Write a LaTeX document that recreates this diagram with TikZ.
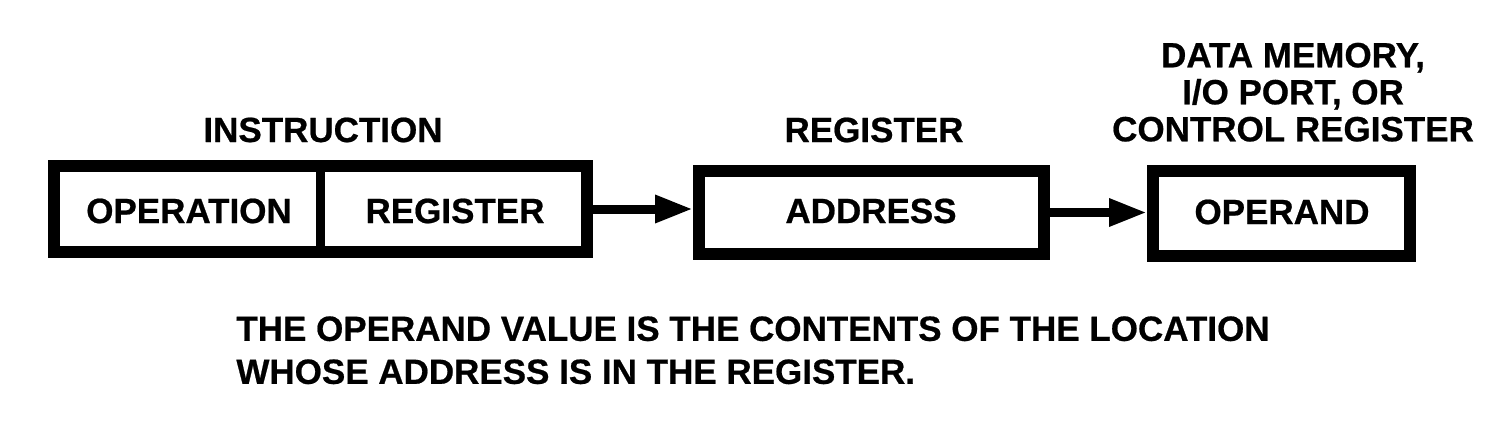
\documentclass[tikz,border=0pt]{standalone}
\usepackage{fontspec}
\setmainfont{Liberation Sans}
\newfontfamily\heavyfont{Liberation Sans Bold}[FakeBold=0.6]
\usetikzlibrary{arrows.meta}
\begin{document}
\begin{tikzpicture}[x=0.5pt,y=-0.5pt,
  box/.style={draw=black, line width=6pt, fill=white, inner sep=0pt},
  txt/.style={font=\heavyfont\fontsize{17.5}{18.5}\selectfont, inner sep=0pt, text=black},
  arr/.style={line width=4.5pt, -{Triangle[length=19pt,width=13pt]}},
  divider/.style={line width=4.5pt, shorten >=3pt, shorten <=3pt}]
\useasboundingbox (0,0) rectangle (1500,430);
% boxes
\node[box, minimum width=266.5pt, minimum height=43pt] (instr) at (320.5,209) {};
\node[box, minimum width=172.5pt, minimum height=41.5pt] (addr) at (871.5,212.5) {};
\node[box, minimum width=128.5pt, minimum height=42.5pt] (opbox) at (1281.5,213.5) {};
\draw[divider] (instr.north) -- (instr.south);
% texts in boxes
\node[txt, anchor=base] (opn) at (189,223) {OPERATION};
\node[txt, anchor=base] (regf) at (455,223) {REGISTER};
\node[txt, anchor=base] (adr) at (871,223) {ADDRESS};
\node[txt, anchor=base] (opd) at (1282,224) {OPERAND};
% labels above
\node[txt, anchor=base] (lblinstr) at (323,142) {INSTRUCTION};
\node[txt, anchor=base] (lblreg) at (874,142) {REGISTER};
\node[txt, anchor=south, align=center] (lblmem) at (1293,142) {DATA MEMORY,\\I/O PORT, OR\\CONTROL REGISTER};
% note
\node[txt, anchor=north west, align=left, font=\heavyfont\fontsize{17.5}{21.5}\selectfont] (note) at (236,316)
  {THE OPERAND VALUE IS THE CONTENTS OF THE LOCATION\\WHOSE ADDRESS IS IN THE REGISTER.};
% arrows
\draw[arr] (instr.east) -- (instr.east -| addr.west);
\draw[arr] (addr.east) -- (addr.east -| opbox.west);
\end{tikzpicture}
\end{document}
